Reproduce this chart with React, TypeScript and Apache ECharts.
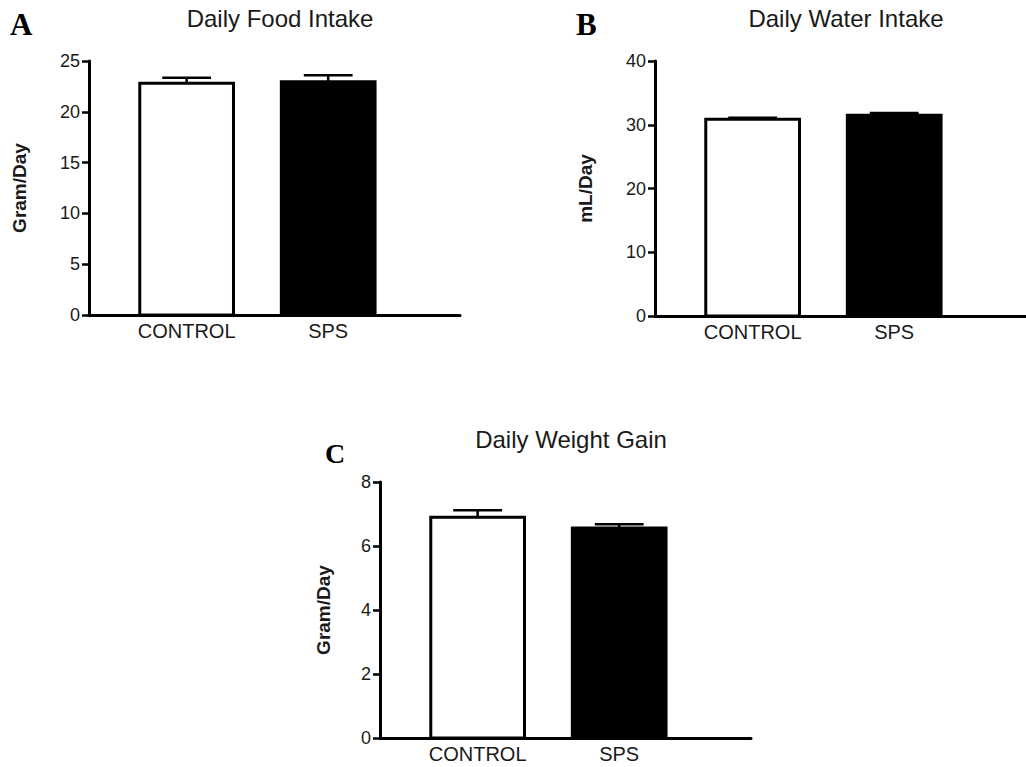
import React, { useEffect, useRef } from 'react';
import * as echarts from 'echarts';

// ---- data ----
const categories = ['CONTROL', 'SPS'];
const barFills = ['#ffffff', '#000000'];

const foodMean = [22.8, 22.95];
const foodSem = [0.55, 0.65];
const foodTicks = [0, 5, 10, 15, 20, 25];

const waterMean = [30.85, 31.5];
const waterSem = [0.25, 0.35];
const waterTicks = [0, 10, 20, 30, 40];

const weightMean = [6.9, 6.56];
const weightSem = [0.22, 0.12];
const weightTicks = [0, 2, 4, 6, 8];

const panelTitles = ['Daily Food Intake', 'Daily Water Intake', 'Daily Weight Gain'];
const panelLetters = ['A', 'B', 'C'];
const yNames = ['Gram/Day', 'mL/Day', 'Gram/Day'];

// ---- layout (not data) ----
const catPos = [1, 2.45];
const X_MAX = 3.8;
const HALF = 0.48;
const CAP = 0.25;
const FONT = '"Liberation Sans", Arial, Helvetica, sans-serif';
const SERIF = '"Liberation Serif", "Times New Roman", serif';

const grids = [
  { left: 89, top: 61, width: 371, height: 254, nameGap: 60 },
  { left: 655, top: 61, width: 371, height: 255, nameGap: 60 },
  { left: 380, top: 482, width: 371, height: 256, nameGap: 47 },
];

const panels = [
  { mean: foodMean, sem: foodSem, ticks: foodTicks },
  { mean: waterMean, sem: waterSem, ticks: waterTicks },
  { mean: weightMean, sem: weightSem, ticks: weightTicks },
];

function buildOption() {
  const grid: any[] = [];
  const xAxis: any[] = [];
  const yAxis: any[] = [];
  const series: any[] = [];
  const graphic: any[] = [];

  panels.forEach((p, i) => {
    const g = grids[i];
    grid.push({ left: g.left, top: g.top, width: g.width, height: g.height, containLabel: false });
    xAxis.push({
      type: 'value',
      gridIndex: i,
      min: 0,
      max: X_MAX,
      splitLine: { show: false },
      axisTick: { show: false },
      axisLine: { show: true, onZero: false, lineStyle: { color: '#000', width: 3 } },
      axisLabel: {
        customValues: catPos,
        margin: 6,
        fontSize: 20,
        fontFamily: FONT,
        color: '#1a1a1a',
        formatter: (v: number) => {
          let best = 0;
          catPos.forEach((c, k) => {
            if (Math.abs(c - v) < Math.abs(catPos[best] - v)) best = k;
          });
          return categories[best];
        },
      },
    });
    const tmin = p.ticks[0];
    const tmax = p.ticks[p.ticks.length - 1];
    const interval = p.ticks[1] - p.ticks[0];
    yAxis.push({
      type: 'value',
      gridIndex: i,
      min: tmin,
      max: tmax,
      interval,
      name: yNames[i],
      nameLocation: 'middle',
      nameRotate: 90,
      nameGap: g.nameGap,
      nameTextStyle: { fontSize: 19, fontWeight: 'bold', fontFamily: FONT, color: '#1a1a1a' },
      splitLine: { show: false },
      axisLine: { show: true, lineStyle: { color: '#000', width: 3 } },
      axisTick: { show: true, inside: false, length: 7, lineStyle: { color: '#000', width: 2.5 } },
      axisLabel: { fontSize: 18, fontFamily: FONT, color: '#1a1a1a', margin: 9 },
    });
    series.push({
      type: 'custom',
      xAxisIndex: i,
      yAxisIndex: i,
      encode: { x: 0, y: 1 },
      data: p.mean.map((m, k) => [catPos[k], m, p.sem[k]]),
      renderItem: (params: any, api: any) => {
        const pos = api.value(0) as number;
        const val = api.value(1) as number;
        const sem = api.value(2) as number;
        const idx = params.dataIndex;
        const tl = api.coord([pos - HALF, val]);
        const br = api.coord([pos + HALF, 0]);
        const top = api.coord([pos, val + sem]);
        const capL = api.coord([pos - CAP, val + sem]);
        const capR = api.coord([pos + CAP, val + sem]);
        return {
          type: 'group',
          children: [
            {
              type: 'line',
              shape: { x1: top[0], y1: tl[1], x2: top[0], y2: top[1] },
              style: { stroke: '#000', lineWidth: 2.5 },
            },
            {
              type: 'line',
              shape: { x1: capL[0], y1: capL[1], x2: capR[0], y2: capR[1] },
              style: { stroke: '#000', lineWidth: 2.5 },
            },
            {
              type: 'rect',
              shape: { x: tl[0], y: tl[1], width: br[0] - tl[0], height: br[1] - tl[1] },
              style: { fill: barFills[idx], stroke: '#000', lineWidth: 3 },
            },
          ],
        };
      },
    });
    graphic.push({
      type: 'text',
      x: g.left + 191,
      y: g.top - 55,
      style: {
        text: panelTitles[i],
        fontSize: 24,
        fontFamily: FONT,
        fill: '#1a1a1a',
        align: 'center',
        verticalAlign: 'top',
      },
    });
  });

  const letterPos = [
    { x: 10, y: 9, size: 31 },
    { x: 576, y: 9, size: 31 },
    { x: 325, y: 439, size: 28 },
  ];
  letterPos.forEach((lp, i) => {
    graphic.push({
      type: 'text',
      x: lp.x,
      y: lp.y,
      style: {
        text: panelLetters[i],
        fontSize: lp.size,
        fontWeight: 'bold',
        fontFamily: SERIF,
        fill: '#000',
        align: 'left',
        verticalAlign: 'top',
      },
    });
  });

  return {
    animation: false,
    backgroundColor: '#ffffff',
    grid,
    xAxis,
    yAxis,
    series,
    graphic,
  };
}

export default function App() {
  const ref = useRef<HTMLDivElement>(null);
  useEffect(() => {
    if (!ref.current) return;
    const chart = echarts.init(ref.current, undefined, { renderer: 'svg' });
    chart.setOption(buildOption() as any);
    return () => chart.dispose();
  }, []);
  return (
    <div
      ref={ref}
      style={{ position: 'absolute', left: 0, top: 0, width: 1026, height: 767, background: '#fff' }}
    />
  );
}
